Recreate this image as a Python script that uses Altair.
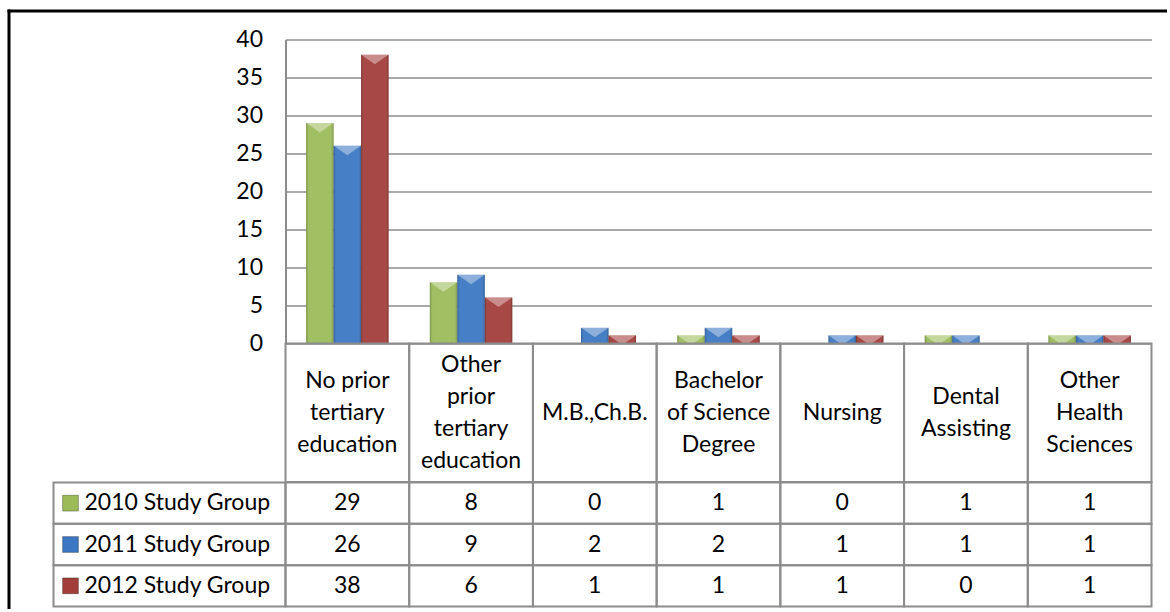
import altair as alt
import pandas as pd

# ---- data ----
categories = ["No prior tertiary education", "Other prior tertiary education", "M.B.,Ch.B.",
              "Bachelor of Science Degree", "Nursing", "Dental Assisting", "Other Health Sciences"]
category_lines = [["No prior", "tertiary", "education"],
                  ["Other", "prior", "tertiary", "education"],
                  ["M.B.,Ch.B."],
                  ["Bachelor", "of Science", "Degree"],
                  ["Nursing"],
                  ["Dental", "Assisting"],
                  ["Other", "Health", "Sciences"]]
series = ["2010 Study Group", "2011 Study Group", "2012 Study Group"]
values_2010 = [29, 8, 0, 1, 0, 1, 1]
values_2011 = [26, 9, 2, 2, 1, 1, 1]
values_2012 = [38, 6, 1, 1, 1, 0, 1]
y_ticks = [0, 5, 10, 15, 20, 25, 30, 35, 40]

# ---- styles / layout ----
colors = ["#9bbb59", "#3b77c2", "#a23d3a"]
line_color = "#8c8c8c"
FONT = "Lato"
FS = 23
LH = 32
LEG_W = 232
PLOT_W = 866
PLOT_H = 303.5
HEAD_H = 138.5
ROWS_H = 124
no_view = alt.ViewBackground(stroke="transparent", strokeWidth=0, fill="transparent")

rows = []
for s, vals in zip(series, [values_2010, values_2011, values_2012]):
    for c, v in zip(categories, vals):
        rows.append({"category": c, "series": s, "value": v})
df = pd.DataFrame(rows)

header_df = pd.DataFrame({"category": categories,
                          "label": ["|".join(l) for l in category_lines]})
legend_df = pd.DataFrame({"series": series})

x_enc = alt.X("category:N", sort=categories,
              scale=alt.Scale(paddingInner=0, paddingOuter=0), axis=None)
color_enc = alt.Color("series:N", sort=series,
                      scale=alt.Scale(domain=series, range=colors), legend=None)

# ---- frame (chart border) ----
frame_df = pd.DataFrame({"a": [0]})
top_rule = alt.Chart(frame_df).mark_rule(color="black", strokeWidth=3, strokeCap="square").encode(
    x=alt.value(-44.5), x2=alt.value(1112), y=alt.value(-28.5))
left_rule = alt.Chart(frame_df).mark_rule(color="black", strokeWidth=3, strokeCap="square").encode(
    x=alt.value(-44.5), y=alt.value(-28.5), y2=alt.value(568))
cell_a = alt.layer(top_rule, left_rule).properties(width=LEG_W, height=PLOT_H, view=no_view)

# ---- bars ----
bbase = alt.Chart(df).encode(
    x=x_enc,
    xOffset=alt.XOffset("series:N", sort=series,
                        scale=alt.Scale(paddingInner=0, paddingOuter=0.75)),
    y=alt.Y("value:Q", scale=alt.Scale(domain=[0, 40], nice=False),
            axis=alt.Axis(values=y_ticks, title=None, grid=True, gridColor=line_color,
                          gridWidth=1.5, domainColor=line_color, domainWidth=2,
                          ticks=False, labelPadding=23, labelFontSize=FS,
                          labelFont=FONT, labelColor="black")),
)
bars = bbase.mark_bar().encode(color=color_enc)
bevel = bbase.mark_bar(color=alt.LinearGradient(
    gradient="linear", x1=0, x2=1, y1=0, y2=0,
    stops=[alt.GradientStop(color="rgba(0,0,0,0.22)", offset=0),
           alt.GradientStop(color="rgba(255,255,255,0.06)", offset=0.12),
           alt.GradientStop(color="rgba(255,255,255,0.06)", offset=0.88),
           alt.GradientStop(color="rgba(0,0,0,0.22)", offset=1)]))
top_bevel = bbase.mark_point(
    shape="M-1,0L1,0L0,0.7Z", size=740, filled=True, color="white", opacity=0.38,
    clip=True).transform_filter("datum.value > 0")
bar_chart = alt.layer(bars, bevel, top_bevel).properties(width=PLOT_W, height=PLOT_H, view=no_view)

# ---- empty cell left of header ----
cell_c = alt.Chart(frame_df).mark_point(opacity=0).properties(width=LEG_W, height=HEAD_H,
                                                              view=no_view)

# ---- header row ----
hbase = alt.Chart(header_df).encode(x=x_enc)
hcells = hbase.mark_rect(fillOpacity=0, stroke=line_color, strokeWidth=2)
htext = hbase.mark_text(fontSize=FS, font=FONT, lineHeight=LH, baseline="middle",
                        color="black").transform_calculate(
    lines="split(datum.label, '|')").transform_calculate(
    ypos=f"{HEAD_H / 2} - (length(datum.lines) - 1) * {LH / 2}").encode(
    text="lines:N", y=alt.Y("ypos:Q", scale=None, axis=None))
header = alt.layer(hcells, htext).properties(width=PLOT_W, height=HEAD_H, view=no_view)

# ---- legend column ----
y_rows = alt.Y("series:N", sort=series, scale=alt.Scale(paddingInner=0, paddingOuter=0), axis=None)
lbase = alt.Chart(legend_df).encode(y=y_rows)
lcells = lbase.mark_rect(fillOpacity=0, stroke=line_color, strokeWidth=2)
licons = lbase.mark_square(size=250, opacity=1, stroke="rgba(0,0,0,0.3)", strokeWidth=1).encode(
    x=alt.value(17), color=color_enc)
ltext = lbase.mark_text(align="left", baseline="middle", fontSize=FS, font=FONT,
                        color="black").encode(x=alt.value(31), text="series:N")
legend = alt.layer(lcells, licons, ltext).properties(width=LEG_W, height=ROWS_H, view=no_view)

# ---- values table ----
tbase = alt.Chart(df).encode(x=x_enc, y=y_rows)
tcells = tbase.mark_rect(fillOpacity=0, stroke=line_color, strokeWidth=2)
ttext = tbase.mark_text(baseline="middle", fontSize=FS, font=FONT, color="black").encode(
    text="value:Q")
table = alt.layer(tcells, ttext).properties(width=PLOT_W, height=ROWS_H, view=no_view)

chart = alt.concat(cell_a, bar_chart, cell_c, header, legend, table,
                   columns=2, spacing=0, bounds="flush").properties(
    padding={"left": 6.5, "top": 8.5, "right": 0, "bottom": 0},
    background="white",
).configure_view(stroke="transparent", strokeWidth=0).configure(font=FONT)

chart.save("out.html", embed_options={"renderer": "svg", "actions": False})
